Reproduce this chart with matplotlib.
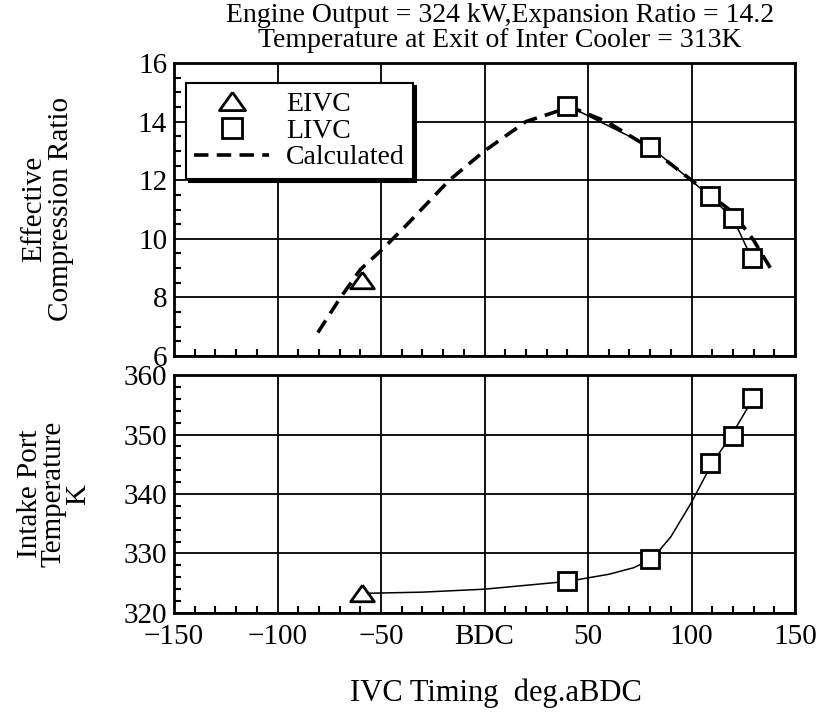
import matplotlib
matplotlib.use('Agg')
import matplotlib.pyplot as plt
from matplotlib.ticker import MultipleLocator

plt.rcParams['font.family'] = ['Liberation Serif', 'DejaVu Serif']

# upper panel: effective compression ratio
eivc_x = [-59]
eivc_ecr = [8.6]
livc_x = [40, 80, 109, 120, 129]
livc_ecr = [14.55, 13.15, 11.45, 10.7, 9.35]
calc_x = [-80.5, -70, -60, -50, -40, -17, 0, 20, 35, 45, 59, 80, 100, 120, 130, 139]
calc_ecr = [6.8, 7.95, 8.95, 9.6, 10.3, 12.0, 13.0, 14.0, 14.35, 14.4, 14.0, 13.1, 12.0, 10.9, 9.95, 8.9]

# lower panel: intake port temperature
eivc_temp = [323.3]
livc_temp = [325.3, 329.1, 345.2, 349.7, 356.2]
fit_x = [-58, -30, 0, 40, 60, 72, 81, 90, 100, 110, 119, 130]
fit_temp = [323.3, 323.5, 324.0, 325.3, 326.5, 327.6, 329.1, 332.8, 338.6, 345.2, 349.7, 356.2]

xticks = [-150, -100, -50, 0, 50, 100, 150]
xticklabels = ['\u2212150', '\u2212100', '\u221250', 'BDC', '50', '100', '150']

fig = plt.figure(figsize=(8.29, 7.13), dpi=100)
ax1 = fig.add_axes([0.2099, 0.5007, 0.7491, 0.4109])
ax2 = fig.add_axes([0.2099, 0.1403, 0.7491, 0.3337])

tri = [(0, 0.7), (-1, -0.7), (1, -0.7), (0, 0.7)]

ax1.plot(calc_x, calc_ecr, 'k', lw=2.6, dashes=(4, 2.3), label='Calculated', zorder=3)
ax1.plot(livc_x, livc_ecr, 'k-', lw=1.1, zorder=3)
ax1.plot(eivc_x, eivc_ecr, ls='none', marker=tri, ms=17, mfc='white', mec='k', mew=2,
         label='EIVC', zorder=4)
ax1.plot(livc_x, livc_ecr, ls='none', marker='s', ms=13, mfc='white', mec='k', mew=2,
         label='LIVC', zorder=4)

ax2.plot([eivc_x[0]] + fit_x, [eivc_temp[0]] + fit_temp, 'k-', lw=1.1, zorder=3)
ax2.plot(eivc_x, eivc_temp, ls='none', marker=tri, ms=17, mfc='white', mec='k', mew=2, zorder=4)
ax2.plot(livc_x, livc_temp, ls='none', marker='s', ms=13, mfc='white', mec='k', mew=2, zorder=4)

ax1.set_ylim(6, 16)
ax1.set_yticks([6, 8, 10, 12, 14, 16])
ax1.yaxis.set_minor_locator(MultipleLocator(0.5))
ax2.set_ylim(320, 360)
ax2.set_yticks([320, 330, 340, 350, 360])
ax2.yaxis.set_minor_locator(MultipleLocator(2))

for ax in (ax1, ax2):
    ax.set_xlim(-150, 150)
    ax.set_xticks(xticks)
    ax.xaxis.set_minor_locator(MultipleLocator(10))
    ax.grid(True, which='major', color='k', lw=1.3)
    ax.tick_params(which='major', length=0, labelsize=21)
    ax.tick_params(axis='y', which='major', pad=5)
    ax.tick_params(axis='x', which='major', pad=8)
    ax.tick_params(which='minor', direction='in', length=5, width=1.5, color='k')
    for s in ax.spines.values():
        s.set_linewidth(2.0)
    ax.set_axisbelow(True)

ax1.tick_params(axis='x', labelbottom=False)
ax2.set_xticklabels(xticklabels)

leg = ax1.legend(handles=[ax1.lines[2], ax1.lines[3], ax1.lines[0]],
                 loc='upper left', bbox_to_anchor=(0.019, 0.932), borderaxespad=0,
                 fancybox=False, edgecolor='k', framealpha=1, fontsize=20,
                 handlelength=2.7, handletextpad=0.6, labelspacing=0.05, borderpad=0.3,
                 markerscale=1.1, shadow={'color': 'k', 'alpha': 1})
leg.get_frame().set_linewidth(1.5)

fig.text(0.057, 0.707, 'Effective\nCompression Ratio', rotation=90, ha='center', va='center',
         fontsize=21, linespacing=1.05)
fig.text(0.065, 0.307, 'Intake Port\nTemperature\nK', rotation=90, ha='center', va='center',
         fontsize=21, linespacing=0.9)
fig.text(0.598, 0.028, 'IVC Timing  deg.aBDC', ha='center', va='center', fontsize=22)
fig.text(0.603, 0.978, 'Engine Output = 324 kW,Expansion Ratio = 14.2', ha='center', va='center',
         fontsize=20)
fig.text(0.603, 0.943, 'Temperature at Exit of Inter Cooler = 313K', ha='center', va='center',
         fontsize=20)

fig.savefig('out.png', dpi=100)
